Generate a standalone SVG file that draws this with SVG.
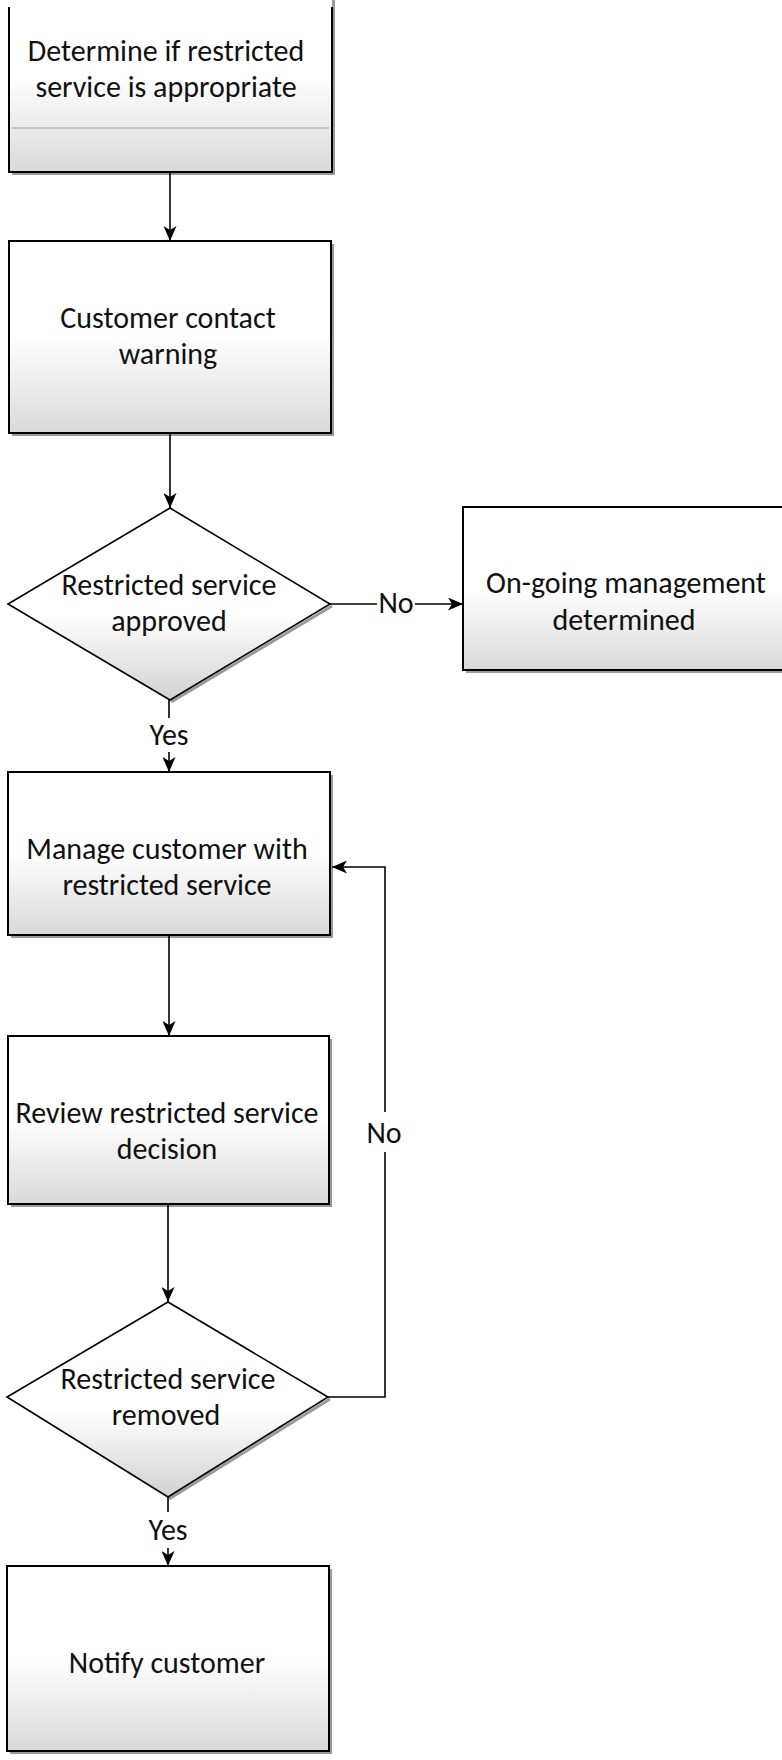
<svg xmlns="http://www.w3.org/2000/svg" width="782" height="1760" viewBox="0 0 782 1760">
<style>
.box{stroke:#000;stroke-width:2;fill:url(#fade)}
.shadow{fill:#9a9a9a;stroke:none}
.dshadow{fill:none;stroke:#9a9a9a;stroke-width:3}
.dia{stroke:#000;stroke-width:1.6;fill:url(#fadeD)}
.t{font-family:Carlito,Lato,"Open Sans",sans-serif;font-size:30px;fill:#111;text-anchor:middle}
.c{stroke:#000;stroke-width:1.6;fill:none}
</style>
<defs>
<linearGradient id="fade" x1="0" y1="0" x2="0" y2="1">
<stop offset="0" stop-color="#ffffff"/>
<stop offset="0.5" stop-color="#ffffff"/>
<stop offset="1" stop-color="#d9d9d9"/>
</linearGradient>
<linearGradient id="fadeD" x1="0" y1="0" x2="0" y2="1">
<stop offset="0" stop-color="#ffffff"/>
<stop offset="0.55" stop-color="#ffffff"/>
<stop offset="1" stop-color="#d2d2d2"/>
</linearGradient>
<marker id="arr" markerUnits="userSpaceOnUse" markerWidth="16" markerHeight="13" refX="15" refY="6.5" orient="auto">
<path d="M0,0 L15,6.5 L0,13 L4,6.5 Z" fill="#000"/>
</marker>
</defs>
<rect width="782" height="1760" fill="#fff"/>

<g id="n1">
<rect class="shadow" x="12" y="-20" width="323" height="195"/>
<rect x="9" y="-20" width="323" height="192" fill="url(#fade)" stroke="none"/>
<path d="M9,7 V172 H332 V7" fill="none" stroke="#000" stroke-width="2"/>
<line x1="12" y1="128" x2="329" y2="128" stroke="#c4c4c4" stroke-width="2"/>
<text class="t" x="166" y="61">Determine if restricted</text>
<text class="t" x="166" y="97">service is appropriate</text>
</g>

<g id="n2">
<rect class="shadow" x="12" y="244" width="322" height="192"/>
<rect class="box" x="9" y="241" width="322" height="192"/>
<text class="t" x="168" y="328">Customer contact</text>
<text class="t" x="168" y="364">warning</text>
</g>

<g id="d1">
<polyline class="dshadow" points="332,606 171,702"/>
<polygon class="dia" points="170,508 330,604 170,700 8,604"/>
<text class="t" x="169" y="595">Restricted service</text>
<text class="t" x="169" y="631">approved</text>
</g>

<g id="n_ongoing">
<rect class="shadow" x="466" y="510" width="340" height="163"/>
<rect class="box" x="463" y="507" width="340" height="163"/>
<text class="t" x="626" y="593">On-going management</text>
<text class="t" x="624" y="630">determined</text>
</g>

<g id="n3">
<rect class="shadow" x="11" y="775" width="322" height="163"/>
<rect class="box" x="8" y="772" width="322" height="163"/>
<text class="t" x="167" y="859">Manage customer with</text>
<text class="t" x="167" y="895">restricted service</text>
</g>

<g id="n4">
<rect class="shadow" x="11" y="1039" width="321" height="168"/>
<rect class="box" x="8" y="1036" width="321" height="168"/>
<text class="t" x="167" y="1123">Review restricted service</text>
<text class="t" x="167" y="1159">decision</text>
</g>

<g id="d2">
<polyline class="dshadow" points="330,1399 169,1499"/>
<polygon class="dia" points="168,1302 328,1397 168,1497 7,1397"/>
<text class="t" x="168" y="1389">Restricted service</text>
<text class="t" x="166" y="1425">removed</text>
</g>

<g id="n5">
<rect class="shadow" x="10" y="1569" width="322" height="185"/>
<rect class="box" x="7" y="1566" width="322" height="185"/>
<text class="t" x="167" y="1673">Notify customer</text>
</g>

<g id="connectors">
<line class="c" x1="170" y1="172" x2="170" y2="241" marker-end="url(#arr)"/>
<line class="c" x1="170" y1="433" x2="170" y2="508" marker-end="url(#arr)"/>
<line class="c" x1="330" y1="604" x2="377" y2="604"/>
<text class="t" x="396" y="613">No</text>
<line class="c" x1="415" y1="604" x2="463" y2="604" marker-end="url(#arr)"/>
<line class="c" x1="169" y1="700" x2="169" y2="718"/>
<text class="t" x="169" y="745">Yes</text>
<line class="c" x1="169" y1="752" x2="169" y2="772" marker-end="url(#arr)"/>
<line class="c" x1="169" y1="935" x2="169" y2="1036" marker-end="url(#arr)"/>
<line class="c" x1="168" y1="1204" x2="168" y2="1302" marker-end="url(#arr)"/>
<polyline class="c" points="328,1397 385,1397 385,1152"/>
<text class="t" x="384" y="1143">No</text>
<polyline class="c" points="385,1112 385,867 332,867" marker-end="url(#arr)"/>
<line class="c" x1="168" y1="1497" x2="168" y2="1512"/>
<text class="t" x="168" y="1540">Yes</text>
<line class="c" x1="168" y1="1548" x2="168" y2="1566" marker-end="url(#arr)"/>
</g>
</svg>
